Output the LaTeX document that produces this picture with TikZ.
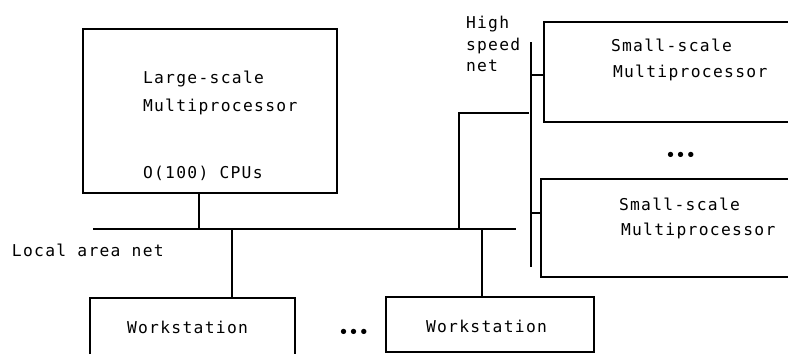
\documentclass[tikz,border=0pt]{standalone}
\usepackage{fontspec}
\setmonofont{DejaVu Sans Mono}[LetterSpace=8]
\begin{document}
\begin{tikzpicture}[x=1pt,y=-1pt,
  every node/.style={inner sep=0pt,outer sep=0pt,font=\ttfamily\fontsize{16.3}{18}\selectfont},
  lbl/.style={anchor=base west},
  wire/.style={line width=1.4pt},
  box/.style={line width=1.5pt}]
\useasboundingbox (0,0) rectangle (788,354);
% large-scale multiprocessor
\draw[box] (83,29) rectangle (337,193);
\coordinate (lbot) at (199,193);
\node[lbl] (l1) at (143,83) {Large-scale};
\node[lbl] (l2) at (143,111) {Multiprocessor};
\node[lbl] (l3) at (143,178) {O(100) CPUs};
% local area net
\coordinate (lanL) at (93,229);
\coordinate (lanR) at (516,229);
\draw[wire] (lanL) -- (lanR);
\node[lbl] (lan) at (12,256) {Local area net};
\draw[wire] (lbot) -- (199,229);
% workstations
\draw[box] (90,354) -- (90,298) -- (295,298) -- (295,354);
\coordinate (w1top) at (232,298);
\node[lbl] (w1) at (127,333) {Workstation};
\draw[wire] (232,229) -- (w1top);
\draw[box] (386,352) -- (386,297) -- (594,297) -- (594,352) -- cycle;
\coordinate (w2top) at (482,297);
\node[lbl] (w2) at (426,332) {Workstation};
\draw[wire] (482,229) -- (w2top);
\node[lbl] (dots1) at (339,337) {\fontsize{15}{16}\selectfont\bfseries•••};
% high speed net
\coordinate (hsT) at (531,42);
\coordinate (hsB) at (531,267);
\draw[wire] (hsT) -- (hsB);
\node[lbl] (hs1) at (466,28) {High};
\node[lbl] (hs2) at (466,50) {speed};
\node[lbl] (hs3) at (466,71) {net};
\draw[wire] (459,229) -- (459,113) -- (529,113);
% small-scale multiprocessors
\draw[box] (790,22) -- (544,22) -- (544,122) -- (790,122);
\draw[wire] (531,75) -- (544,75);
\node[lbl] (s1a) at (611,51) {Small-scale};
\node[lbl] (s1b) at (613,77) {Multiprocessor};
\node[lbl] (dots2) at (666,160) {\fontsize{15}{16}\selectfont\bfseries•••};
\draw[box] (790,179) -- (541,179) -- (541,277) -- (790,277);
\draw[wire] (531,213) -- (541,213);
\node[lbl] (s2a) at (619,210) {Small-scale};
\node[lbl] (s2b) at (621,235) {Multiprocessor};
\end{tikzpicture}
\end{document}
